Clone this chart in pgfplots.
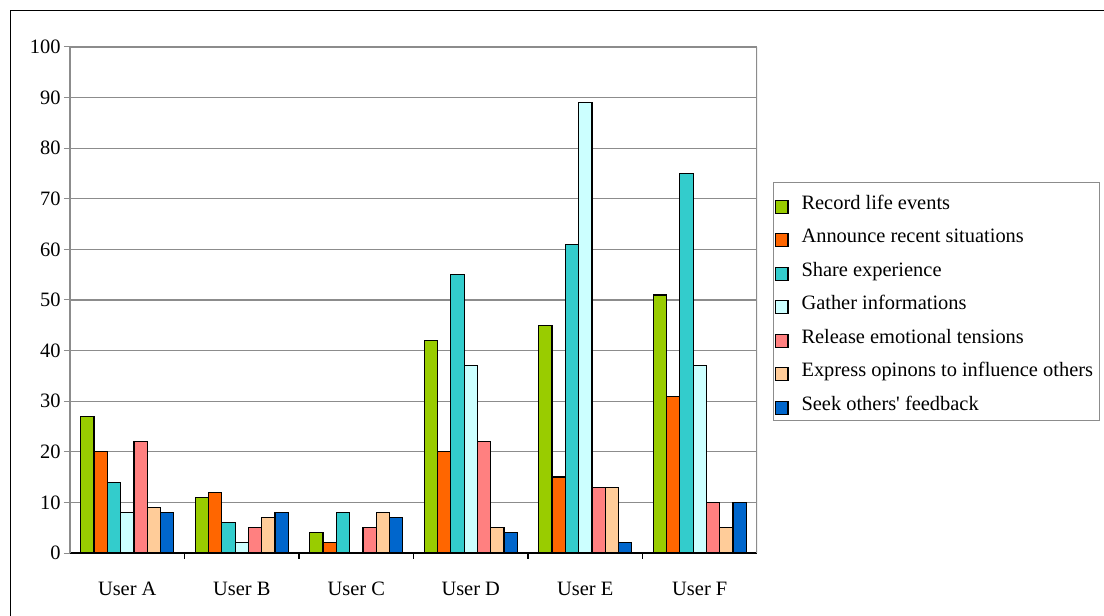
\documentclass[border=0pt]{standalone}
\usepackage{fontspec}
\setmainfont{Liberation Serif}
\usepackage{pgfplots}
\pgfplotsset{compat=1.18}
\definecolor{cA}{HTML}{99CC00}
\definecolor{cB}{HTML}{FF6600}
\definecolor{cC}{HTML}{33CCCC}
\definecolor{cD}{HTML}{CCFFFF}
\definecolor{cE}{HTML}{FF8080}
\definecolor{cF}{HTML}{FFCC99}
\definecolor{cG}{HTML}{0066CC}
\definecolor{gridgray}{HTML}{8C8C8C}
\begin{document}
\begin{tikzpicture}
\path[use as bounding box, clip] (0,0) rectangle (1104bp,616bp);
\draw[black, line width=1.5bp] (10.5bp,-5bp) -- (10.5bp,605.5bp) -- (1110bp,605.5bp);
\begin{axis}[
  at={(70bp,63bp)}, anchor=south west,
  scale only axis, width=687bp, height=506bp,
  ybar=0pt, bar width=13.3bp,
  xmin=-0.5, xmax=5.5, ymin=0, ymax=100,
  axis x line*=bottom, axis y line*=left,
  x axis line style={draw=black, line width=1.6bp},
  y axis line style={draw=gridgray, line width=1.2bp},
  xtick={0,...,5},
  xticklabels={User A,User B,User C,User D,User E,User F},
  xticklabel style={anchor=base, yshift=-37bp},
  xtick style={draw=none},
  extra x ticks={0.5,1.5,2.5,3.5,4.5},
  extra x tick labels={},
  extra x tick style={xtick style={draw=black, line width=1.2bp}, tick align=outside},
  ytick={0,10,...,100},
  ytick style={draw=gridgray, line width=1bp},
  tick align=outside, major tick length=6bp,
  ymajorgrids, major grid style={draw=gridgray, line width=1.2bp},
  font=\fontsize{20.5}{24}\selectfont,
  tick label style={font=\fontsize{20.5}{24}\selectfont},
  /pgf/number format/assume math mode=true,
  legend style={at={(1.0229,0.7338)}, anchor=north west,
    draw=gridgray, line width=1bp,
    inner xsep=1.5bp, inner ysep=5bp, row sep=6.5bp,
    font=\fontsize{20.5}{24}\selectfont,
    nodes={inner sep=0pt, text height=22bp, text depth=5bp},
    /tikz/every odd column/.append style={column sep=13bp}},
  legend cell align=left,
  legend image code/.code={\draw[#1, draw=black, line width=1.1bp] (0bp,-12.5bp) rectangle (12.7bp,0.5bp);},
]
\addplot[draw=black, line width=1.2bp, fill=cA] coordinates {(0,27) (1,11) (2,4) (3,42) (4,45) (5,51)};
\addplot[draw=black, line width=1.2bp, fill=cB] coordinates {(0,20) (1,12) (2,2) (3,20) (4,15) (5,31)};
\addplot[draw=black, line width=1.2bp, fill=cC] coordinates {(0,14) (1,6) (2,8) (3,55) (4,61) (5,75)};
\addplot[draw=black, line width=1.2bp, fill=cD] coordinates {(0,8) (1,2) (2,0) (3,37) (4,89) (5,37)};
\addplot[draw=black, line width=1.2bp, fill=cE] coordinates {(0,22) (1,5) (2,5) (3,22) (4,13) (5,10)};
\addplot[draw=black, line width=1.2bp, fill=cF] coordinates {(0,9) (1,7) (2,8) (3,5) (4,13) (5,5)};
\addplot[draw=black, line width=1.2bp, fill=cG] coordinates {(0,8) (1,8) (2,7) (3,4) (4,2) (5,10)};
\addlegendentry{Record life events}
\addlegendentry{Announce recent situations}
\addlegendentry{Share experience}
\addlegendentry{Gather informations}
\addlegendentry{Release emotional tensions}
\addlegendentry{Express opinons to influence others\hspace*{5bp}}
\addlegendentry{Seek others\textquotesingle\ feedback}
\draw[gridgray, line width=1.2bp] (rel axis cs:1,0) -- (rel axis cs:1,1);
\end{axis}
\end{tikzpicture}
\end{document}
